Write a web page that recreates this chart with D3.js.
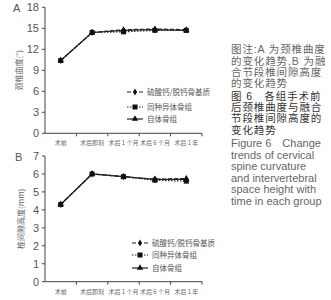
<!DOCTYPE html>
<html lang="zh">
<head>
<meta charset="utf-8">
<script src="https://cdn.jsdelivr.net/npm/d3@7"></script>
<style>
  body { margin: 0; background: #fff; }
  svg { display: block; }
  .tick-num { font-family: "Liberation Sans", Arial, sans-serif; font-size: 11px; fill: #555; }
  .cat { font-family: "Noto Sans CJK SC", serif; font-size: 6px; fill: #666; }
  .legend { font-family: "Noto Sans CJK SC", serif; font-size: 7.5px; fill: #555; }
  .ytitle { font-family: "Noto Sans CJK SC", serif; font-size: 8px; fill: #666; }
  .note { font-family: "Liberation Sans", "Noto Sans CJK SC", sans-serif; font-size: 10.5px; letter-spacing: 0.9px; fill: #666; }
  .note-en { font-family: "Liberation Sans", Arial, sans-serif; font-size: 11px; letter-spacing: 0; fill: #666; }
  .dark { fill: #333; }
</style>
</head>
<body>
<script>
// categories and series
var categories = ["术前", "术后即刻", "术后 1 个月", "术后 6 个月", "术后 1 年"];
var seriesNames = ["硫酸钙/脱钙骨基质", "同种异体骨组", "自体骨组"];

// panel A: cervical curvature (°)
var curveCaSO4 = [10.4, 14.4, 14.8, 14.9, 14.8];
var curveAllo  = [10.4, 14.4, 14.5, 14.7, 14.7];
var curveAuto  = [10.4, 14.4, 14.7, 14.8, 14.7];
var ticksA = [0, 3, 6, 9, 12, 15, 18];

// panel B: intervertebral space height (mm)
var heightCaSO4 = [4.3, 6.0, 5.85, 5.7, 5.75];
var heightAllo  = [4.3, 6.0, 5.85, 5.65, 5.6];
var heightAuto  = [4.3, 6.0, 5.85, 5.7, 5.7];
var ticksB = [0, 1, 2, 3, 4, 5, 6, 7];

var noteLines = [
  {t: "图注:A 为颈椎曲度", cls: "note"},
  {t: "的变化趋势,B 为融", cls: "note"},
  {t: "合节段椎间隙高度", cls: "note"},
  {t: "的变化趋势", cls: "note"},
  {t: "图 6　各组手术前", cls: "note dark"},
  {t: "后颈椎曲度与融合", cls: "note dark"},
  {t: "节段椎间隙高度的", cls: "note dark"},
  {t: "变化趋势", cls: "note dark"},
  {t: "Figure 6　Change", cls: "note-en"},
  {t: "trends of cervical", cls: "note-en"},
  {t: "spine curvature", cls: "note-en"},
  {t: "and intervertebral", cls: "note-en"},
  {t: "space height with", cls: "note-en"},
  {t: "time in each group", cls: "note-en"}
];

var w = 331, h = 300;
var svg = d3.select("body").append("svg").attr("width", w).attr("height", h);

var styles = [
  {dash: "4,2", marker: "diamond"},
  {dash: "1.5,1.5", marker: "square"},
  {dash: null, marker: "triangle"}
];

var x = d3.scaleBand().domain(categories).range([45, 202]);

function drawPanel(opt) {
  var g = svg.append("g");
  var y = d3.scaleLinear().domain([0, opt.max]).range([opt.bottom, opt.top]);

  // y axis
  g.append("line").attr("x1", 45).attr("x2", 45)
    .attr("y1", y(0)).attr("y2", y(opt.max)).attr("stroke", "#444");
  g.selectAll(".yt").data(opt.ticks).enter().append("line")
    .attr("x1", 42).attr("x2", 45)
    .attr("y1", function(d){ return y(d); }).attr("y2", function(d){ return y(d); })
    .attr("stroke", "#444");
  g.selectAll(".yl").data(opt.ticks).enter().append("text")
    .attr("class", "tick-num")
    .attr("x", 39).attr("y", function(d){ return y(d) + 4; })
    .attr("text-anchor", "end").text(function(d){ return d; });

  // x axis, ticks at band edges
  g.append("line").attr("x1", 45).attr("x2", 202)
    .attr("y1", y(0)).attr("y2", y(0)).attr("stroke", "#444");
  var edges = categories.map(function(c){ return x(c) + x.bandwidth(); });
  g.selectAll(".xt").data(edges).enter().append("line")
    .attr("x1", function(d){ return d; }).attr("x2", function(d){ return d; })
    .attr("y1", y(0)).attr("y2", y(0) + 3).attr("stroke", "#444");
  g.selectAll(".xl").data(categories).enter().append("text")
    .attr("class", "cat")
    .attr("x", function(d){ return x(d) + x.bandwidth() / 2; })
    .attr("y", y(0) + 12)
    .attr("text-anchor", "middle").text(function(d){ return d; });

  // y title
  g.append("text").attr("class", "ytitle")
    .attr("transform", "translate(" + opt.titleX + "," + ((opt.top + opt.bottom) / 2) + ") rotate(-90)")
    .attr("text-anchor", "middle").text(opt.title);

  // panel letter
  g.append("text").attr("class", "tick-num")
    .attr("x", opt.letterX).attr("y", opt.letterY).text(opt.letter);

  var line = d3.line()
    .x(function(d, i){ return x(categories[i]) + x.bandwidth() / 2; })
    .y(function(d){ return y(d); });

  // solid drawn first, dashed on top
  [2, 1, 0].forEach(function(si) {
    var vals = opt.series[si];
    g.append("path").datum(vals)
      .attr("d", line).attr("fill", "none")
      .attr("stroke", "#222").attr("stroke-width", 1.2)
      .attr("stroke-dasharray", styles[si].dash);
    vals.forEach(function(v, i) {
      drawMarker(g, x(categories[i]) + x.bandwidth() / 2, y(v), styles[si].marker);
    });
  });

  // legend
  var lg = g.append("g");
  seriesNames.forEach(function(name, i) {
    var ly = opt.legendY[i];
    lg.append("line").attr("x1", opt.legendX).attr("x2", opt.legendX + 16)
      .attr("y1", ly).attr("y2", ly).attr("stroke", "#222").attr("stroke-width", 1.2)
      .attr("stroke-dasharray", styles[i].dash);
    drawMarker(lg, opt.legendX + 8, ly, styles[i].marker);
    lg.append("text").attr("class", "legend")
      .attr("x", opt.legendX + 20).attr("y", ly + 3).text(name);
  });
}

function drawMarker(g, cx, cy, type) {
  if (type === "square") {
    g.append("rect").attr("x", cx - 2.5).attr("y", cy - 2.5)
      .attr("width", 5).attr("height", 5).attr("fill", "#111");
  } else if (type === "triangle") {
    g.append("path").attr("d", d3.symbol().type(d3.symbolTriangle).size(18)())
      .attr("transform", "translate(" + cx + "," + cy + ")").attr("fill", "#111");
  } else {
    g.append("path").attr("d", d3.symbol().type(d3.symbolDiamond).size(14)())
      .attr("transform", "translate(" + cx + "," + cy + ")").attr("fill", "#111");
  }
}

drawPanel({
  max: 18, ticks: ticksA, top: 7.3, bottom: 133.3,
  series: [curveCaSO4, curveAllo, curveAuto],
  title: "颈椎曲度(°)", titleX: 22,
  letter: "A", letterX: 13, letterY: 12,
  legendX: 127, legendY: [92, 107, 119]
});

drawPanel({
  max: 7, ticks: ticksB, top: 156, bottom: 281.7,
  series: [heightCaSO4, heightAllo, heightAuto],
  title: "椎间隙高度(mm)", titleX: 24,
  letter: "B", letterX: 15, letterY: 161,
  legendX: 132, legendY: [243, 255, 268]
});

// caption column: one text block, one tspan per line
var noteY = [49, 61, 72, 83, 96, 107, 118, 130, 143, 155, 166, 178, 189, 201];
svg.append("text").attr("class", "note")
  .selectAll("tspan").data(noteLines).enter().append("tspan")
  .attr("class", function(d){ return d.cls; })
  .attr("x", 231)
  .attr("y", function(d, i){ return noteY[i] + 4; })
  .text(function(d){ return d.t; });
</script>
</body>
</html>
